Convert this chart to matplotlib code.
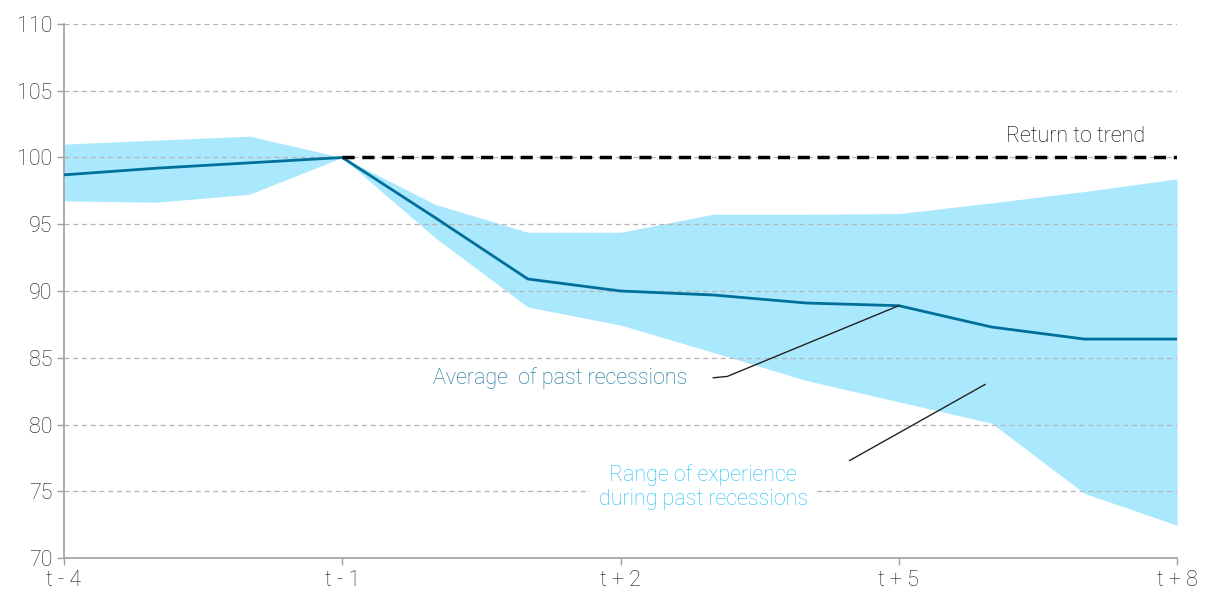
import matplotlib.pyplot as plt
import numpy as np

# quarters relative to the start of the recession
quarters = np.arange(-4, 9)
avg = [98.7, 99.2, 99.6, 100.0, 95.5, 90.9, 90.0, 89.7, 89.1, 88.9, 87.3, 86.4, 86.4]
upper = [101.0, 101.3, 101.6, 100.0, 96.5, 94.4, 94.4, 95.75, 95.75, 95.8, 96.6, 97.45, 98.4]
lower = [96.75, 96.65, 97.25, 100.0, 94.0, 88.8, 87.45, 85.4, 83.3, 81.7, 80.1, 74.85, 72.45]
trend_q = [-1, 8]
trend_v = [100, 100]
tick_q = [-4, -1, 2, 5, 8]
tick_lab = ['t - 4', 't - 1', 't + 2', 't + 5', 't + 8']

plt.rcParams['font.family'] = ['Roboto', 'DejaVu Sans']
FS = 15.5
W = 'light'

fig = plt.figure(figsize=(12.06, 5.94), dpi=100)
ax = fig.add_axes([0.0531, 0.0606, 0.9229, 0.899])

ax.fill_between(quarters, lower, upper, color='#aae8fd', lw=0, zorder=1)
ax.plot(quarters, avg, color='#00709a', lw=2, zorder=3)
ax.plot(trend_q, trend_v, color='black', lw=2.5, ls=(0, (3.5, 2.2)), zorder=3)

ax.set_xlim(-4, 8)
ax.set_ylim(70, 110)
ax.set_yticks(np.arange(70, 111, 5))
ax.set_xticks(tick_q)
ax.set_xticklabels(tick_lab)
ax.set_axisbelow(False)
ax.grid(axis='y', color='#b5b5b5', lw=0.9, ls=(0, (4, 3)), zorder=2)
ax.grid(axis='x', visible=False)
for s in ['top', 'right']:
    ax.spines[s].set_visible(False)
for s in ['left', 'bottom']:
    ax.spines[s].set_color('#a0a0a0')
    ax.spines[s].set_linewidth(1.2)
ax.tick_params(axis='both', colors='#a0a0a0', labelcolor='#1a1a1a',
               labelsize=FS, length=5, width=1)
for lab in ax.get_xticklabels() + ax.get_yticklabels():
    lab.set_fontweight(W)

ax.text(6.91, 100.8, 'Return to trend', fontsize=FS, fontweight=W,
        color='#000000', ha='center', va='bottom')

ax.text(1.35, 83.5, 'Average  of past recessions', fontsize=FS, fontweight=W,
        color='#0a6d96', ha='center', va='center')
ax.plot([3.0, 3.15, 5.0], [83.5, 83.6, 88.9], color='#222222', lw=1, zorder=4)

ax.text(2.89, 75.3, 'Range of experience\nduring past recessions', fontsize=FS,
        fontweight=W, color='#22bff5', ha='center', va='center',
        linespacing=1.2, zorder=5,
        bbox=dict(facecolor='white', edgecolor='none', pad=6))
ax.plot([4.47, 5.93], [77.3, 83.0], color='#222222', lw=1, zorder=4)

fig.savefig('out.png', dpi=100)
